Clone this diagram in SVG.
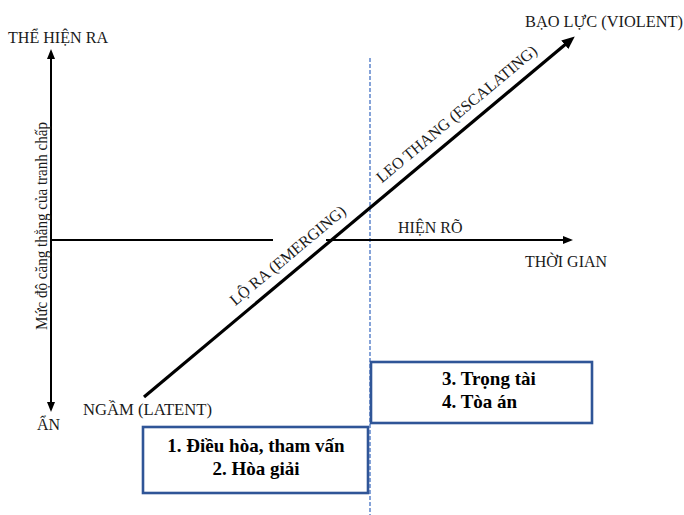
<svg xmlns="http://www.w3.org/2000/svg" width="684" height="515" viewBox="0 0 684 515">
  <style>
    .lbl { font-family: 'Liberation Serif', 'DejaVu Serif', serif; font-size: 16px; fill: #1a1a1a; }
    .box { fill: #ffffff; stroke: #2F5597; stroke-width: 2.6; }
    .btxt { font-family: 'Liberation Serif', 'DejaVu Serif', serif; font-size: 19px; font-weight: bold; fill: #000000; }
    .axis { stroke: #000000; stroke-width: 2; fill: none; }
    .diag { stroke: #000000; stroke-width: 3.2; fill: none; }
    .dash { stroke: #4472C4; stroke-width: 1.3; stroke-dasharray: 4 2; fill: none; }
  </style>
  <defs>
    <marker id="arr" markerUnits="userSpaceOnUse" markerWidth="10" markerHeight="8" viewBox="0 0 10 8" refX="5" refY="4" orient="auto-start-reverse">
      <path d="M0,0 L10,4 L0,8 z" fill="#000000"/>
    </marker>
    <marker id="arrBig" markerUnits="userSpaceOnUse" markerWidth="13" markerHeight="11" viewBox="0 0 13 11" refX="6" refY="5.5" orient="auto">
      <path d="M0,0 L13,5.5 L0,11 z" fill="#000000"/>
    </marker>
  </defs>

  <g id="connectors">
    <line class="dash" x1="370" y1="58" x2="370" y2="515"/>
    <line class="axis" x1="51" y1="54" x2="51" y2="407" marker-start="url(#arr)" marker-end="url(#arr)"/>
    <line class="axis" x1="51" y1="240" x2="273" y2="240"/>
    <line class="axis" x1="326" y1="240" x2="568" y2="240" marker-end="url(#arr)"/>
    <line class="diag" x1="144" y1="397" x2="569.4" y2="40.9" marker-end="url(#arrBig)"/>
  </g>

  <g id="label-the-hien-ra">
    <text class="lbl" x="8" y="43" font-family="Liberation Serif, serif" textLength="100" lengthAdjust="spacingAndGlyphs">THỂ HIỆN RA</text>
  </g>
  <g id="label-an">
    <text class="lbl" x="37" y="430">ẨN</text>
  </g>
  <g id="label-y-axis">
    <text class="lbl" transform="translate(47,226) rotate(-90)" text-anchor="middle" textLength="208" lengthAdjust="spacingAndGlyphs">Mức độ căng thẳng của tranh chấp</text>
  </g>
  <g id="label-hien-ro">
    <text class="lbl" x="398" y="233">HIỆN RÕ</text>
  </g>
  <g id="label-thoi-gian">
    <text class="lbl" x="525" y="267" textLength="82" lengthAdjust="spacingAndGlyphs">THỜI GIAN</text>
  </g>
  <g id="label-bao-luc">
    <text class="lbl" x="525" y="27" textLength="158" lengthAdjust="spacingAndGlyphs">BẠO LỰC (VIOLENT)</text>
  </g>
  <g id="label-ngam">
    <text class="lbl" x="83" y="415" textLength="129" lengthAdjust="spacingAndGlyphs">NGẦM (LATENT)</text>
  </g>
  <g id="label-lo-ra">
    <text class="lbl" transform="translate(291.1,259.6) rotate(-39.9)" text-anchor="middle">LỘ RA (EMERGING)</text>
  </g>
  <g id="label-leo-thang">
    <text class="lbl" transform="translate(460,118.1) rotate(-39.9)" text-anchor="middle">LEO THANG (ESCALATING)</text>
  </g>

  <g id="box-1">
    <rect class="box" x="143" y="427" width="225" height="66"/>
    <text class="btxt" x="256" y="452" text-anchor="middle">1. Điều hòa, tham vấn</text>
    <text class="btxt" x="256" y="475" text-anchor="middle">2. Hòa giải</text>
  </g>
  <g id="box-2">
    <rect class="box" x="371" y="362" width="221" height="61"/>
    <text class="btxt" x="442" y="385">3. Trọng tài</text>
    <text class="btxt" x="442" y="408">4. Tòa án</text>
  </g>
</svg>
